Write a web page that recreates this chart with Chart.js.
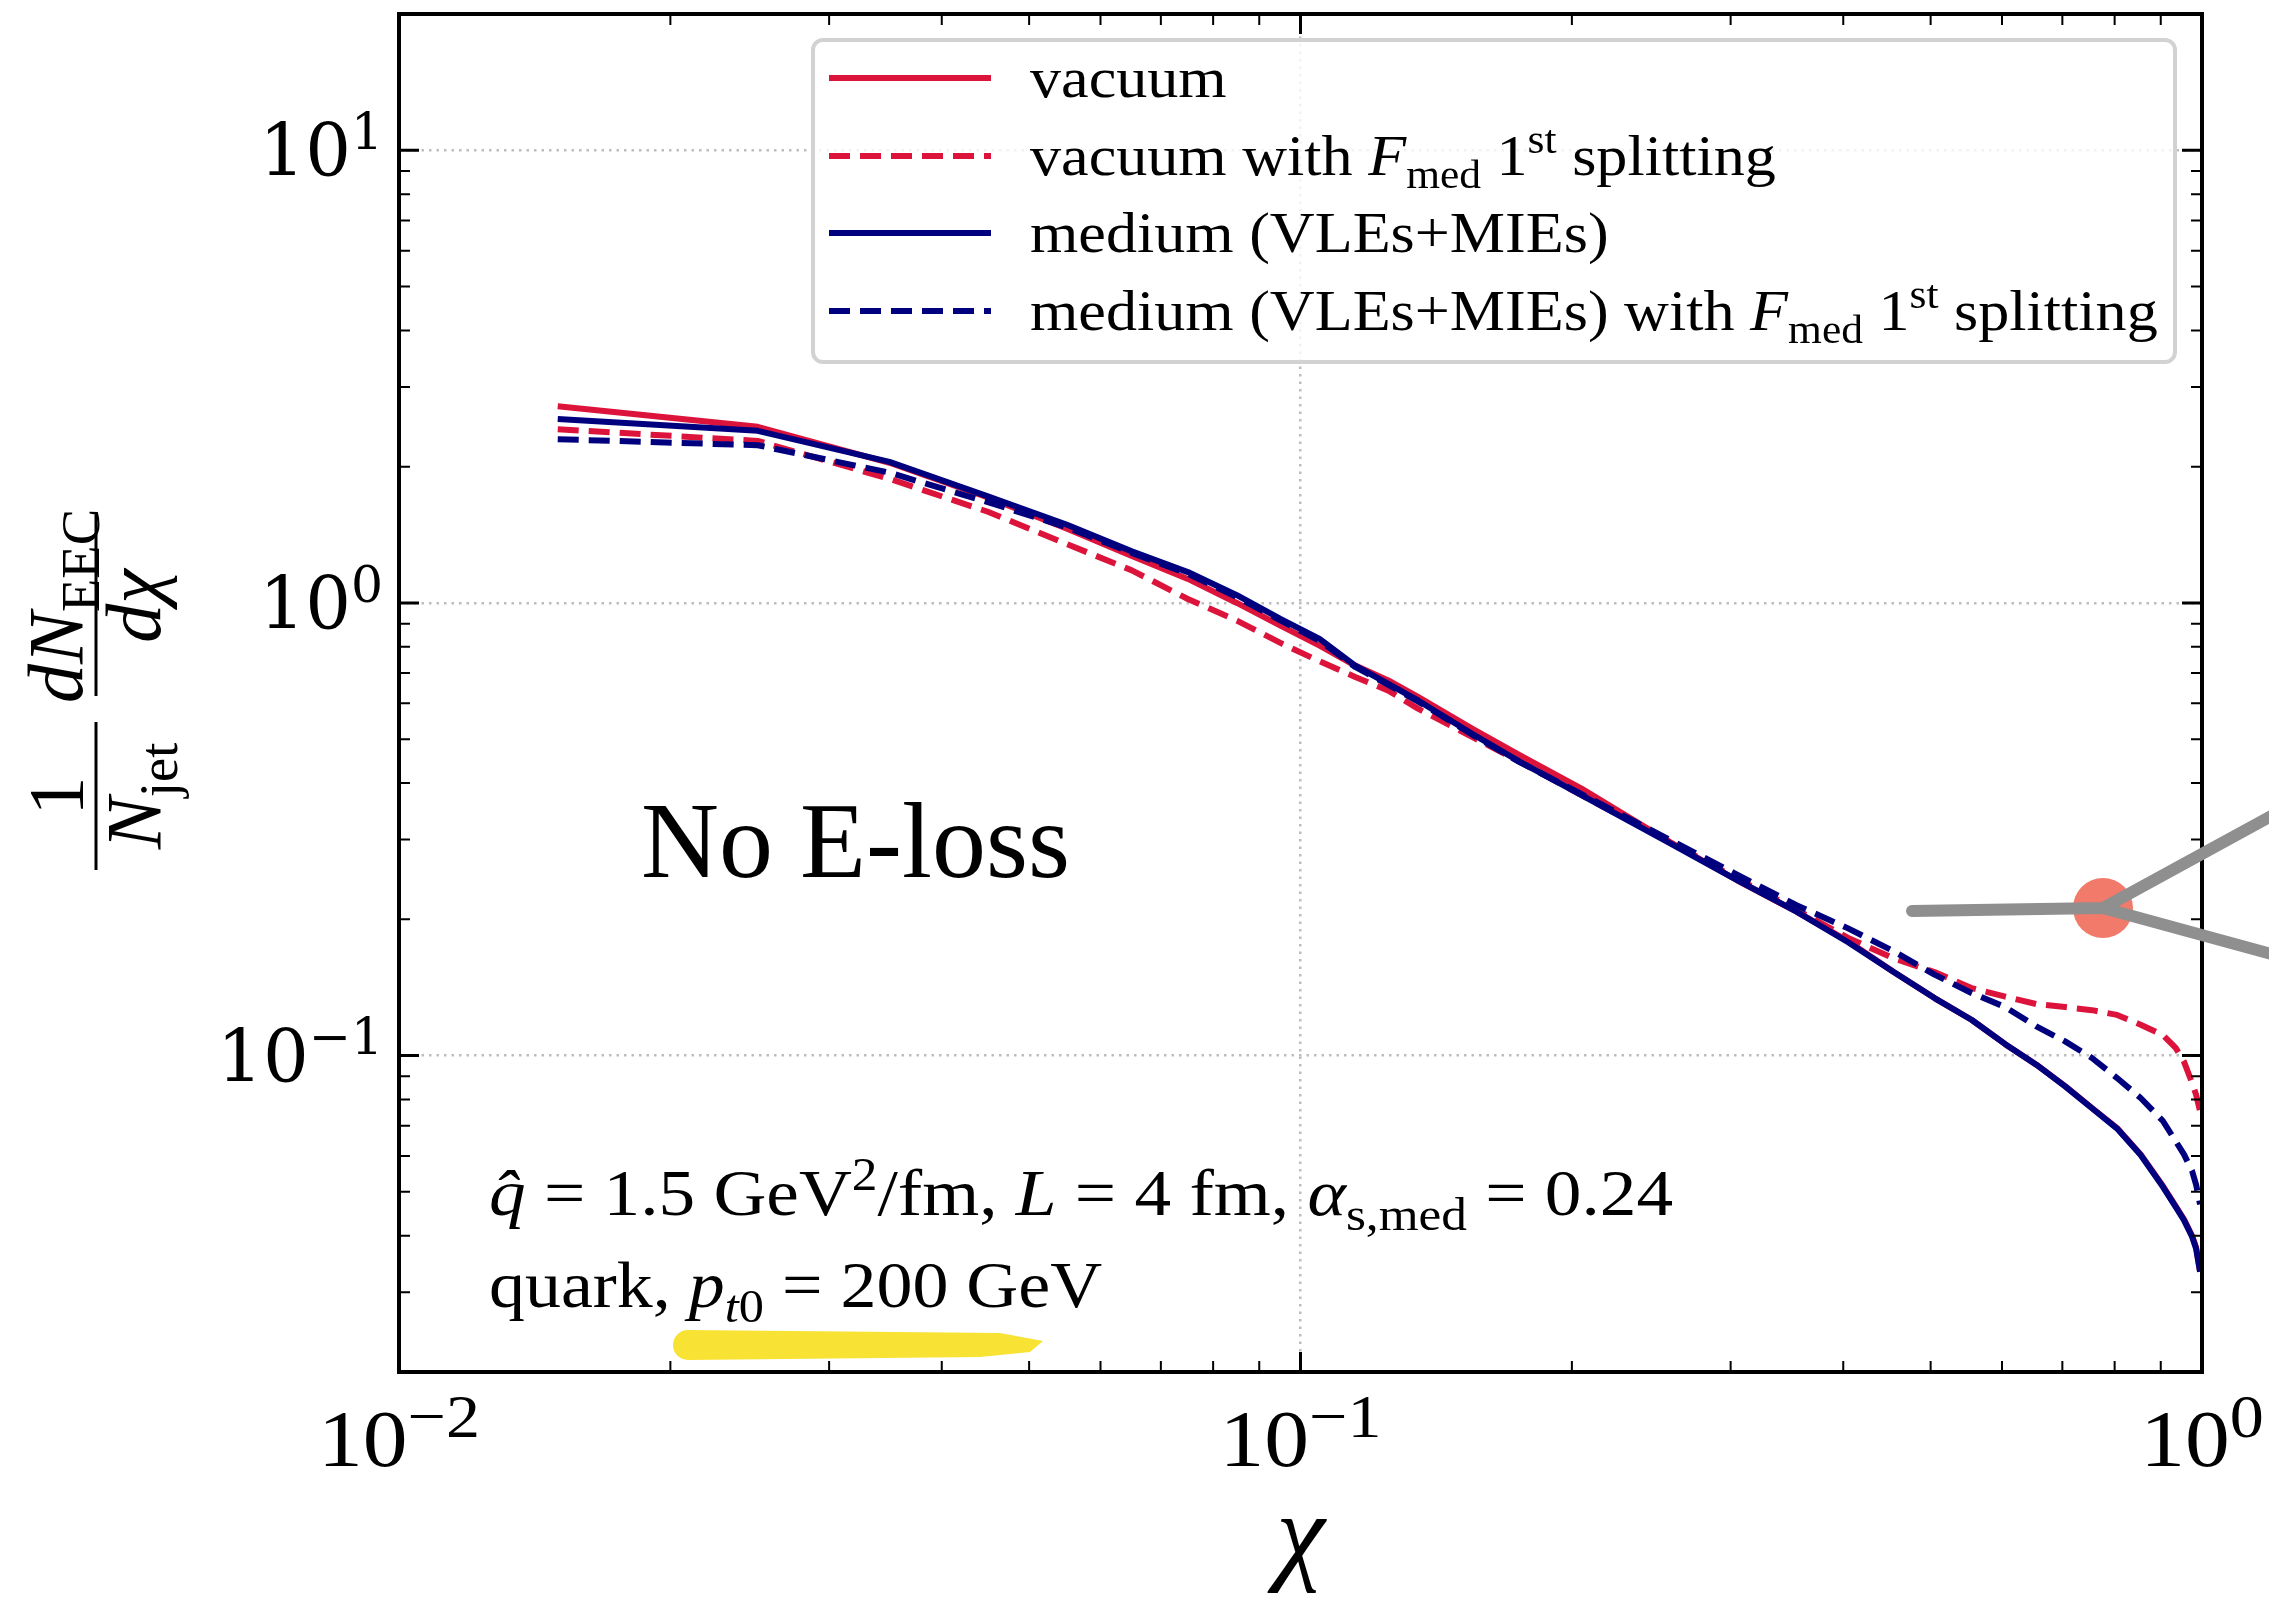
<!DOCTYPE html>
<html>
<head>
<meta charset="utf-8">
<script src="https://cdn.jsdelivr.net/npm/chart.js@4.4.1/dist/chart.umd.min.js"></script>
<style>
  html, body { margin: 0; padding: 0; background: #fff; }
  canvas { display: block; }
</style>
</head>
<body>
<canvas id="eec" width="2269" height="1605"></canvas>
<script>
// chi bin centres and the four EEC curves
const chi = [0.015, 0.025, 0.035, 0.045, 0.055, 0.065, 0.075, 0.085, 0.095, 0.105,
  0.115, 0.125, 0.135, 0.155, 0.175, 0.205, 0.255, 0.305, 0.355, 0.405,
  0.455, 0.505, 0.555, 0.605, 0.655, 0.705, 0.755, 0.805, 0.855, 0.905,
  0.935, 0.955, 0.975, 0.985, 0.995];
const vacuum = [2.72, 2.45, 2.04, 1.71, 1.46, 1.27, 1.13, 1.00, 0.891, 0.805,
  0.727, 0.675, 0.620, 0.528, 0.461, 0.389, 0.299, 0.244, 0.208, 0.179,
  0.153, 0.134, 0.120, 0.106, 0.0955, 0.0856, 0.0766, 0.0692, 0.0605, 0.0515,
  0.0465, 0.0435, 0.0400, 0.0377, 0.0334];
const vacuumFmed = [2.42, 2.28, 1.88, 1.59, 1.35, 1.18, 1.02, 0.914, 0.816, 0.743,
  0.686, 0.641, 0.584, 0.506, 0.446, 0.376, 0.299, 0.246, 0.210, 0.182,
  0.164, 0.153, 0.141, 0.135, 0.130, 0.128, 0.126, 0.123, 0.117, 0.111,
  0.104, 0.097, 0.087, 0.082, 0.0754];
const medium = [2.55, 2.40, 2.05, 1.72, 1.49, 1.30, 1.17, 1.04, 0.922, 0.833,
  0.727, 0.663, 0.609, 0.514, 0.446, 0.376, 0.297, 0.244, 0.208, 0.178,
  0.153, 0.134, 0.120, 0.106, 0.0955, 0.0855, 0.0765, 0.0690, 0.0603, 0.0513,
  0.0463, 0.0433, 0.0398, 0.0375, 0.0333];
const mediumFmed = [2.30, 2.23, 1.94, 1.67, 1.47, 1.29, 1.16, 1.03, 0.915, 0.825,
  0.722, 0.660, 0.606, 0.512, 0.445, 0.378, 0.302, 0.251, 0.215, 0.191,
  0.170, 0.151, 0.1375, 0.128, 0.116, 0.1075, 0.0988, 0.0892, 0.0806, 0.0717,
  0.0647, 0.0605, 0.0556, 0.0519, 0.0469];

const xTicks = [0.01, 0.1, 1];
const yTicks = [0.1, 1, 10];
const xTickLabels = [['10', '\u22122'], ['10', '\u22121'], ['10', '0']];
const yTickLabels = [['10', '\u22121'], ['10', '0'], ['10', '1']];

const seriesNames = ['vacuum', 'vacuum with F_med 1st splitting',
  'medium (VLEs+MIEs)', 'medium (VLEs+MIEs) with F_med 1st splitting'];
// same labels as rich text runs for the drawn legend
const legendRuns = [
  [{ t: 'vacuum' }],
  [{ t: 'vacuum with ' }, { t: 'F', i: 1 }, { t: 'med', sub: 1 }, { t: ' 1' }, { t: 'st', sup: 1 }, { t: ' splitting' }],
  [{ t: 'medium (VLEs+MIEs)' }],
  [{ t: 'medium (VLEs+MIEs) with ' }, { t: 'F', i: 1 }, { t: 'med', sub: 1 }, { t: ' 1' }, { t: 'st', sup: 1 }, { t: ' splitting' }],
];
const infoLine1 = [{ t: 'q\u0302', i: 1 }, { t: ' = 1.5 GeV' }, { t: '2', sup: 1 }, { t: '/fm, ' }, { t: 'L', i: 1 },
  { t: ' = 4 fm, ' }, { t: '\u03b1', i: 1 }, { t: 's,med', sub: 1 }, { t: ' = 0.24' }];
const infoLine2 = [{ t: 'quark, ' }, { t: 'p', i: 1 }, { t: 't', i: 1, sub: 1 }, { t: '0', sub: 1 }, { t: ' = 200 GeV' }];
const panelTitle = 'No E-loss';

const RED = '#dc143c';
const BLUE = '#00007f';
const DASH = [21, 10];
const SERIF = '"Liberation Serif", "Times New Roman", serif';
const DEJAVU = '"DejaVu Serif", serif';

function runFont(r, size, family, scriptScale) {
  const s = (r.sub || r.sup) ? size * scriptScale : size;
  return (r.i ? 'italic ' : '') + s.toFixed(1) + 'px ' + family;
}

// draws text with sub/superscripts, returns its width
function drawRich(ctx, runs, x, y, size, opts) {
  opts = opts || {};
  const family = opts.family || SERIF;
  const sc = opts.script || 0.7;
  const stretch = opts.stretch || 1;
  let w = 0;
  runs.forEach(r => { ctx.font = runFont(r, size, family, sc); w += ctx.measureText(r.t).width; });
  let x0 = x;
  if (opts.align === 'center') x0 -= w * stretch / 2;
  if (opts.align === 'right') x0 -= w * stretch;
  ctx.save();
  ctx.translate(x0, y);
  ctx.scale(stretch, 1);
  ctx.textAlign = 'left';
  ctx.textBaseline = 'alphabetic';
  let cx = 0;
  runs.forEach(r => {
    ctx.font = runFont(r, size, family, sc);
    let dy = 0;
    if (r.sub) dy = size * (opts.subDy || 0.22);
    if (r.sup) dy = -size * (opts.supDy || 0.38);
    ctx.fillText(r.t, cx, dy);
    cx += ctx.measureText(r.t).width;
  });
  ctx.restore();
  return w * stretch;
}

function logValues(min, max, minor) {
  const out = [];
  for (let e = Math.floor(Math.log10(min)); e <= Math.ceil(Math.log10(max)); e++) {
    const ks = minor ? [2, 3, 4, 5, 6, 7, 8, 9] : [1];
    ks.forEach(k => {
      const v = k * Math.pow(10, e);
      if (v >= min * 0.9999 && v <= max * 1.0001) out.push(v);
    });
  }
  return out;
}

const decor = {
  id: 'decor',
  afterDatasetsDraw(chart) {
    const { ctx, chartArea: a, scales: { x, y } } = chart;
    ctx.save();

    // legend
    ctx.beginPath();
    ctx.roundRect(813, 40, 1362, 322, 10);
    ctx.fillStyle = 'rgba(255,255,255,0.8)';
    ctx.fill();
    ctx.lineWidth = 4;
    ctx.strokeStyle = '#d2d2d2';
    ctx.stroke();
    const rows = [78, 156, 233, 311];
    chart.data.datasets.forEach((ds, i) => {
      ctx.beginPath();
      ctx.setLineDash(ds.borderDash);
      ctx.lineWidth = ds.borderWidth;
      ctx.strokeStyle = ds.borderColor;
      ctx.moveTo(829, rows[i]);
      ctx.lineTo(991, rows[i]);
      ctx.stroke();
      ctx.setLineDash([]);
      ctx.fillStyle = '#000';
      drawRich(ctx, legendRuns[i], 1030, rows[i] + 19, 57, { stretch: 1.09 });
    });

    // frame
    ctx.strokeStyle = '#000';
    ctx.lineWidth = 4;
    ctx.strokeRect(a.left, a.top, a.right - a.left, a.bottom - a.top);

    // inward ticks on all four sides
    const tick = (vals, len, lw) => {
      ctx.lineWidth = lw;
      ctx.beginPath();
      vals.x.forEach(v => {
        const px = x.getPixelForValue(v);
        ctx.moveTo(px, a.bottom); ctx.lineTo(px, a.bottom - len);
        ctx.moveTo(px, a.top); ctx.lineTo(px, a.top + len);
      });
      vals.y.forEach(v => {
        const py = y.getPixelForValue(v);
        ctx.moveTo(a.left, py); ctx.lineTo(a.left + len, py);
        ctx.moveTo(a.right, py); ctx.lineTo(a.right - len, py);
      });
      ctx.stroke();
    };
    tick({ x: logValues(x.min, x.max, false), y: logValues(y.min, y.max, false) }, 20, 3);
    tick({ x: logValues(x.min, x.max, true), y: logValues(y.min, y.max, true) }, 11, 2);

    // tick labels
    ctx.fillStyle = '#000';
    xTicks.forEach((v, i) => {
      const [b, e] = xTickLabels[i];
      drawRich(ctx, [{ t: b }, { t: e, sup: 1 }], x.getPixelForValue(v), 1466, 80,
        { align: 'center', supDy: 0.36, script: 0.76, stretch: 1.12 });
    });
    yTicks.forEach((v, i) => {
      const [b, e] = yTickLabels[i];
      drawRich(ctx, [{ t: b }, { t: e, sup: 1 }], 383, y.getPixelForValue(v) + 26, 72,
        { align: 'right', family: DEJAVU, supDy: 0.38 });
    });

    // axis titles
    ctx.font = 'italic 110px ' + SERIF;
    ctx.textAlign = 'center';
    ctx.textBaseline = 'alphabetic';
    ctx.fillText('\u03c7', (a.left + a.right) / 2, 1570);

    ctx.save();
    ctx.translate(96, 692);
    ctx.rotate(-Math.PI / 2);
    ctx.lineWidth = 3;
    ctx.beginPath();
    ctx.moveTo(-178, 0); ctx.lineTo(-30, 0);
    ctx.moveTo(-4, 0); ctx.lineTo(177, 0);
    ctx.stroke();
    drawRich(ctx, [{ t: '1' }], -104, -14, 78, { align: 'center' });
    drawRich(ctx, [{ t: 'N', i: 1 }, { t: 'jet', sub: 1 }], -104, 64, 78, { align: 'center' });
    drawRich(ctx, [{ t: 'd', i: 1 }, { t: 'N', i: 1 }, { t: 'EEC', sub: 1 }], 86, -14, 78, { align: 'center' });
    drawRich(ctx, [{ t: 'd\u03c7', i: 1 }], 86, 64, 78, { align: 'center' });
    ctx.restore();

    // yellow marker stroke under the text
    ctx.fillStyle = '#f8e234';
    ctx.beginPath();
    ctx.moveTo(688, 1330);
    ctx.lineTo(1000, 1333);
    ctx.lineTo(1043, 1341);
    ctx.lineTo(1030, 1352);
    ctx.lineTo(980, 1357);
    ctx.lineTo(688, 1360);
    ctx.arc(688, 1345, 15, Math.PI / 2, Math.PI * 1.5);
    ctx.closePath();
    ctx.fill();

    // annotations
    ctx.fillStyle = '#000';
    drawRich(ctx, infoLine1, 489, 1215, 66, { stretch: 1.11 });
    drawRich(ctx, infoLine2, 489, 1307, 66, { stretch: 1.09 });
    ctx.font = '108px ' + SERIF;
    ctx.textAlign = 'left';
    ctx.fillText(panelTitle, 641, 877);

    // hand-drawn pointer
    ctx.fillStyle = '#f27a6a';
    ctx.beginPath();
    ctx.arc(2103, 908, 30, 0, Math.PI * 2);
    ctx.fill();
    ctx.strokeStyle = '#8f8f8f';
    ctx.lineCap = 'round';
    ctx.lineWidth = 12;
    ctx.beginPath();
    ctx.moveTo(1912, 911);
    ctx.lineTo(2103, 908);
    ctx.moveTo(2103, 908);
    ctx.lineTo(2275, 814);
    ctx.moveTo(2103, 908);
    ctx.lineTo(2275, 955);
    ctx.stroke();

    ctx.restore();
  }
};

const mk = (label, vals, color, dash, order) => ({
  label,
  data: chi.map((c, i) => ({ x: c, y: vals[i] })),
  borderColor: color,
  backgroundColor: color,
  borderWidth: 6,
  borderDash: dash,
  borderJoinStyle: 'round',
  pointRadius: 0,
  tension: 0,
  fill: false,
  order,
});

const gridOpts = { color: '#bdbdbd', lineWidth: 2.5, drawTicks: false };
const borderOpts = { display: false, dash: [2.5, 5] };

new Chart(document.getElementById('eec'), {
  type: 'line',
  data: {
    datasets: [
      mk(seriesNames[0], vacuum, RED, [], 3),
      mk(seriesNames[1], vacuumFmed, RED, DASH, 2),
      mk(seriesNames[2], medium, BLUE, [], 1),
      mk(seriesNames[3], mediumFmed, BLUE, DASH, 0),
    ],
  },
  options: {
    responsive: false,
    animation: false,
    devicePixelRatio: 1,
    layout: { padding: { top: 14, right: 67, left: 0, bottom: 0 } },
    plugins: { legend: { display: false }, tooltip: { enabled: false } },
    scales: {
      x: {
        type: 'logarithmic', min: 0.01, max: 1,
        afterFit: s => { s.height = 233; },
        afterBuildTicks: s => { s.ticks = xTicks.map(v => ({ value: v })); },
        ticks: { display: false },
        grid: gridOpts,
        border: borderOpts,
      },
      y: {
        type: 'logarithmic', min: 0.02, max: 20,
        afterFit: s => { s.width = 399; },
        afterBuildTicks: s => { s.ticks = yTicks.map(v => ({ value: v })); },
        ticks: { display: false },
        grid: gridOpts,
        border: borderOpts,
      },
    },
  },
  plugins: [decor],
});
</script>
</body>
</html>
